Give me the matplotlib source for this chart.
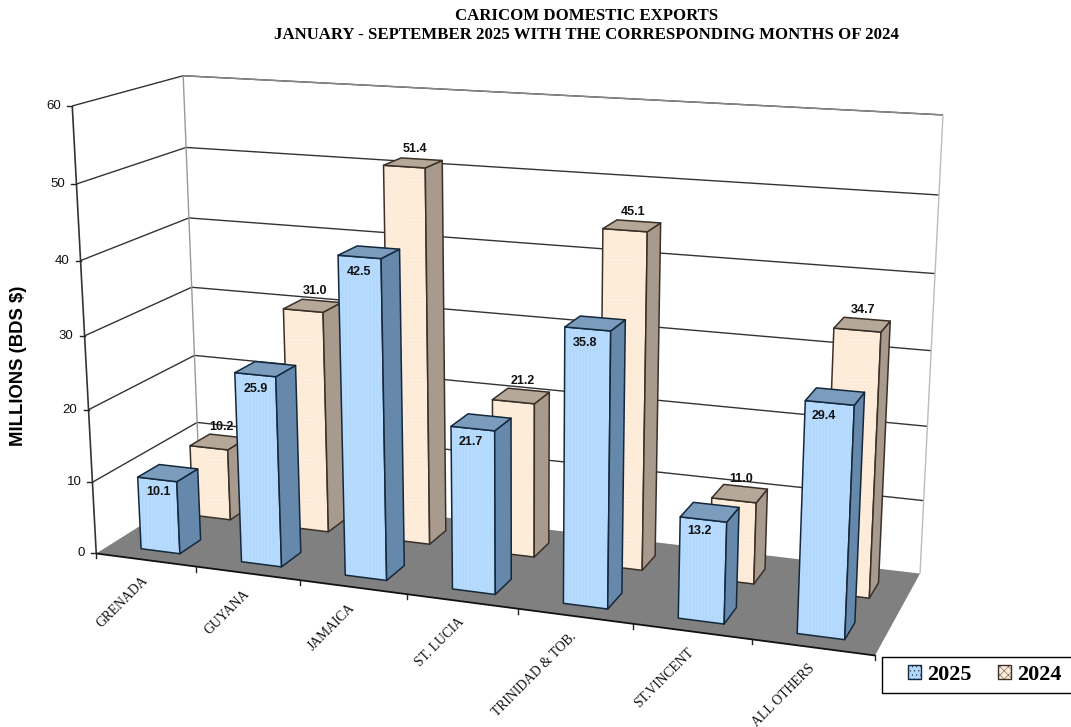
import numpy as np
import matplotlib
matplotlib.use('Agg')
import matplotlib.pyplot as plt
from matplotlib.patches import Polygon, Patch, Rectangle

categories = ['GRENADA', 'GUYANA', 'JAMAICA', 'ST. LUCIA', 'TRINIDAD & TOB.', 'ST.VINCENT', 'ALL OTHERS']
exports_2025 = [10.1, 25.9, 42.5, 21.7, 35.8, 13.2, 29.4]
exports_2024 = [10.2, 31.0, 51.4, 21.2, 45.1, 11.0, 34.7]
y_ticks = [0, 10, 20, 30, 40, 50, 60]

plt.rcParams['hatch.linewidth'] = 0.3

# box corners (category, depth, value) and where they sit in the picture
world = [(0, 0, 0), (7, 0, 0), (0, 1, 0), (7, 1, 0), (0, 0, 60), (0, 1, 60), (7, 1, 60),
         (0, 0, 50), (0, 1, 50), (7, 1, 50)]
screen = [(96, 553), (875, 656), (200, 489), (920, 573), (72, 106), (183, 76), (943, 115),
          (77, 184), (186, 147), (939, 195)]

rows = []
for (a, b, c), (u, v) in zip(world, screen):
    rows.append([a, b, c, 1, 0, 0, 0, 0, -u*a, -u*b, -u*c, -u])
    rows.append([0, 0, 0, 0, a, b, c, 1, -v*a, -v*b, -v*c, -v])
P = np.linalg.svd(np.array(rows, dtype=float))[2][-1].reshape(3, 4)


def proj(x, d, z):
    p = P @ np.array([x, d, z, 1.0])
    return p[0]/p[2], p[1]/p[2]


fig = plt.figure(figsize=(10.71, 7.27), dpi=100)
ax = fig.add_axes([0, 0, 1, 1])
ax.set_xlim(0, 1071)
ax.set_ylim(727, 0)
ax.axis('off')


def line(a, b, color, lw=1.0, z=1):
    ax.plot(*zip(proj(*a), proj(*b)), color=color, lw=lw, zorder=z, solid_capstyle='butt')


def face(pts, color, edge, hatch_col, hatch, z):
    xy = [proj(*p) for p in pts]
    ax.add_patch(Polygon(xy, closed=True, facecolor=color, edgecolor=hatch_col, hatch=hatch, lw=0, zorder=z))
    ax.add_patch(Polygon(xy, closed=True, fill=False, edgecolor=edge, lw=1.1, joinstyle='round', zorder=z))


# walls
for v in y_ticks[1:]:
    line((0, 0, v), (0, 1, v), '#333333', 1.0)
    line((0, 1, v), (7, 1, v), '#333333', 1.0)
line((0, 1, 60), (7, 1, 60), '#888888', 1.0)
line((0, 1, 60), (0, 1, 0), '#999999', 1.0)
line((7, 1, 60), (7, 1, 0), '#bbbbbb', 1.0)
line((0, 0, 60), (0, 0, 0), '#333333', 1.2)

# floor
ax.add_patch(Polygon([proj(0, 0, 0), proj(7, 0, 0), proj(7, 1, 0), proj(0, 1, 0)], closed=True,
                     facecolor='#808080', edgecolor='none', zorder=2))
line((0, 0, 0), (7, 0, 0), '#111111', 1.3, 3)

# ticks
for v in y_ticks:
    x0, y0 = proj(0, 0, v)
    ax.plot([x0-5, x0], [y0, y0], color='#222222', lw=1.0, zorder=3)
    ax.text(x0-11, y0, str(v), ha='right', va='center', fontsize=9.5, family='Liberation Sans', color='#111111')
for i in range(8):
    x0, y0 = proj(i, 0, 0)
    ax.plot([x0, x0], [y0, y0+5], color='#222222', lw=1.0, zorder=3)

bar_w = 0.39
depth_w = 0.2
x_shift = 0.01


def bar(i, val, d0, cols, edge, hatch_col, hatch, z):
    x0 = i + 0.5 - bar_w/2 + x_shift
    x1 = x0 + bar_w
    d1 = d0 + depth_w
    front_col, side_col, top_col = cols
    face([(x0, d0, 0), (x1, d0, 0), (x1, d0, val), (x0, d0, val)], front_col, edge, hatch_col, hatch, z)
    face([(x1, d0, 0), (x1, d1, 0), (x1, d1, val), (x1, d0, val)], side_col, edge, 'none', None, z)
    face([(x0, d0, val), (x1, d0, val), (x1, d1, val), (x0, d1, val)], top_col, edge, 'none', None, z)


for i, val in enumerate(exports_2024):
    bar(i, val, 0.625, ('#FDEBD8', '#A89A8C', '#B5A898'), '#3a3028', '#FFF6EC', '.....', 4)
for i, val in enumerate(exports_2025):
    bar(i, val, 0.125, ('#B2D8FD', '#6688AA', '#7C9CBE'), '#14283c', '#C6E3FF', '|||||', 5)

# value labels
for i, val in enumerate(exports_2024):
    x0, y0 = proj(i+0.5, 0.75, val)
    ax.text(x0+1, y0-13, f'{val:.1f}', ha='center', va='center', fontsize=9, fontweight='bold',
            family='Liberation Sans', color='#111111', zorder=7)
for i, val in enumerate(exports_2025):
    x0, y0 = proj(i+0.5, 0.25, val)
    ax.text(x0-11, y0+21, f'{val:.1f}', ha='center', va='center', fontsize=9, fontweight='bold',
            family='Liberation Sans', color='#111111', zorder=7)

# category labels
for i, name in enumerate(categories):
    x0, y0 = proj(i+0.5, 0, 0)
    ax.text(x0-5, y0+14, name, rotation=45, rotation_mode='anchor', ha='right', va='top',
            fontsize=9.8, family='Liberation Serif', color='#111111')

ax.text(19, 366, 'MILLIONS (BDS $)', rotation=90, ha='center', va='center', fontsize=13.3,
        fontweight='bold', family='Liberation Sans')
ax.text(586.5, 16, 'CARICOM DOMESTIC EXPORTS', ha='center', va='center', fontsize=12.1,
        fontweight='bold', family='Liberation Serif')
ax.text(586.5, 35, 'JANUARY - SEPTEMBER 2025 WITH THE CORRESPONDING MONTHS OF 2024', ha='center', va='center',
        fontsize=12.1, fontweight='bold', family='Liberation Serif')

# legend box runs off the right edge
ax.add_patch(Rectangle((882, 657), 200, 36, facecolor='white', edgecolor='black', lw=1.0, zorder=8))
handles = [Patch(facecolor='#B2D8FD', edgecolor='#14283c', hatch='....', label='2025'),
           Patch(facecolor='#FDEBD8', edgecolor='#3a3028', hatch='xxxx', label='2024')]
leg = ax.legend(handles=handles, ncol=2, loc='center left', bbox_to_anchor=(908/1071, 1-675/727),
                borderaxespad=0, borderpad=0, frameon=False,
                prop={'family': 'Liberation Serif', 'weight': 'bold', 'size': 16},
                handlelength=0.58, handleheight=0.58, handletextpad=0.28, columnspacing=1.2)
leg.set_zorder(9)

fig.savefig('out.png', dpi=100)
